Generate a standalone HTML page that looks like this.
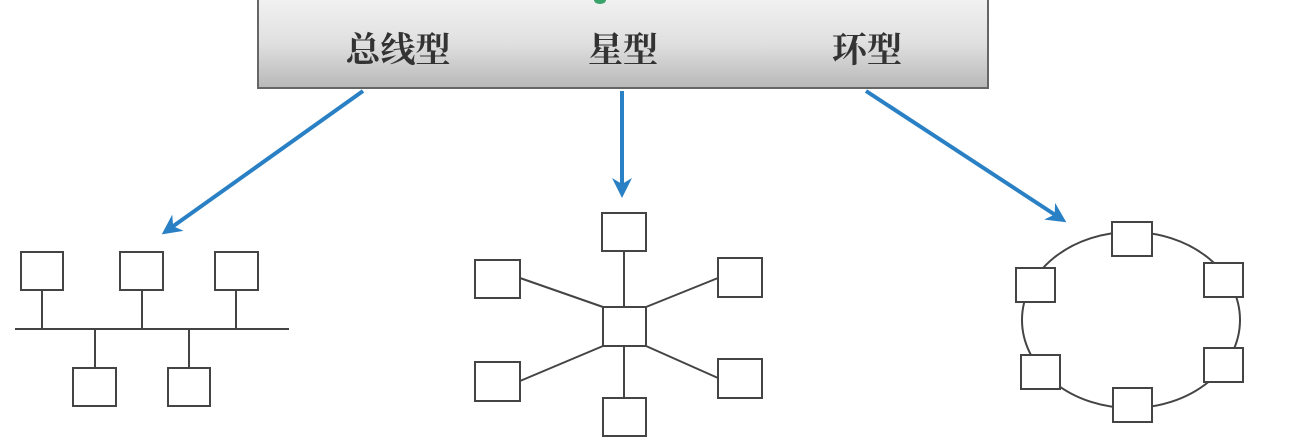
<!DOCTYPE html>
<html><head><meta charset="utf-8"><style>
html,body{margin:0;padding:0;background:#fff;width:1312px;height:444px;overflow:hidden}
</style></head><body>
<svg width="1312" height="444" xmlns="http://www.w3.org/2000/svg">
<defs>
<linearGradient id="g" x1="0" y1="0" x2="0" y2="1">
<stop offset="0" stop-color="#f2f2f2"/><stop offset="0.5" stop-color="#e0e0e0"/><stop offset="1" stop-color="#b8b8b8"/>
</linearGradient>
<marker id="ah" viewBox="0 0 10 10" refX="8" refY="5" markerWidth="5" markerHeight="5" orient="auto">
<path d="M0,0 L10,5 L0,10 L3,5 z" fill="#2a80c4"/></marker>
</defs>
<rect x="258" y="-2" width="730" height="90" fill="url(#g)" stroke="#666" stroke-width="2"/>
<ellipse cx="600" cy="0" rx="6" ry="4" fill="#3aa46a"/>
<g font-family="'Liberation Serif','Noto Serif CJK SC',serif" font-size="35" font-weight="bold" fill="#333" text-anchor="middle">
<text x="398" y="62">总线型</text><text x="623" y="62">星型</text><text x="867" y="62">环型</text>
</g>
<g stroke="#2a80c4" stroke-width="4" fill="none" marker-end="url(#ah)">
<line x1="363" y1="91" x2="165" y2="232"/>
<line x1="622" y1="91" x2="622" y2="194"/>
<line x1="866" y1="91" x2="1063" y2="220"/>
</g>
<g stroke="#444" stroke-width="2" fill="#fff">
<line x1="15" y1="329" x2="289" y2="329"/>
<line x1="42" y1="290" x2="42" y2="329"/><line x1="142" y1="290" x2="142" y2="329"/><line x1="236" y1="290" x2="236" y2="329"/>
<line x1="95" y1="329" x2="95" y2="368"/><line x1="189" y1="329" x2="189" y2="368"/>
<rect x="21" y="252" width="42" height="38"/><rect x="120" y="252" width="43" height="38"/><rect x="215" y="252" width="43" height="38"/>
<rect x="73" y="368" width="43" height="38"/><rect x="168" y="368" width="42" height="38"/>

<line x1="624" y1="251" x2="624" y2="398"/>
<line x1="520" y1="278" x2="603" y2="307"/><line x1="520" y1="381" x2="603" y2="346"/>
<line x1="718" y1="278" x2="646" y2="307"/><line x1="718" y1="378" x2="646" y2="346"/>
<rect x="603" y="307" width="43" height="39"/>
<rect x="602" y="213" width="44" height="38"/><rect x="603" y="398" width="43" height="38"/>
<rect x="475" y="260" width="45" height="38"/><rect x="475" y="362" width="45" height="39"/>
<rect x="718" y="258" width="44" height="39"/><rect x="718" y="359" width="44" height="39"/>

<ellipse cx="1131" cy="320" rx="109" ry="88" fill="none"/>
<rect x="1112" y="222" width="40" height="34"/>
<rect x="1016" y="268" width="39" height="34"/>
<rect x="1204" y="263" width="39" height="34"/>
<rect x="1021" y="355" width="39" height="34"/>
<rect x="1204" y="348" width="39" height="34"/>
<rect x="1113" y="388" width="39" height="34"/>
</g>
</svg>
</body></html>
